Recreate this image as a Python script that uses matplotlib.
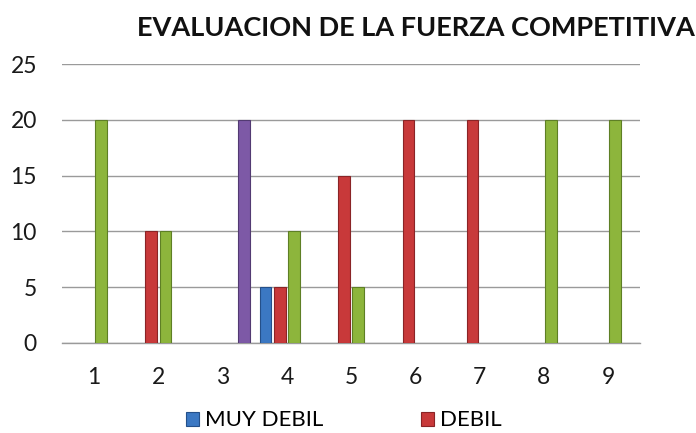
import numpy as np
import matplotlib
matplotlib.use("Agg")
import matplotlib.pyplot as plt

# datos
categorias = [1, 2, 3, 4, 5, 6, 7, 8, 9]
muy_debil = [0, 0, 0, 5, 0, 0, 0, 0, 0]
debil = [0, 10, 0, 5, 15, 20, 20, 0, 0]
fuerte = [20, 10, 0, 10, 5, 0, 0, 20, 20]
muy_fuerte = [0, 0, 20, 0, 0, 0, 0, 0, 0]
y_ticks = [0, 5, 10, 15, 20, 25]

plt.rcParams['font.family'] = ['Lato', 'DejaVu Sans']

fig = plt.figure(figsize=(6.96, 4.33), dpi=100)
ax = fig.add_axes([0.089, 0.208, 0.831, 0.644])

x = np.array(categorias)
s = 0.22   # separacion entre barras de un grupo
w = 0.18   # ancho de barra
series = [
    (muy_debil, '#3B78C3', '#24508A', 'MUY DEBIL'),
    (debil, '#C8393A', '#8A2426', 'DEBIL'),
    (fuerte, '#8DB53C', '#5E7F25', 'FUERTE'),
    (muy_fuerte, '#7D59A6', '#523A72', 'MUY FUERTE'),
]
bars = []
for i, (vals, col, edge, nom) in enumerate(series):
    off = (i - 1.5) * s
    v = np.array(vals, dtype=float)
    mask = v > 0
    b = ax.bar(x[mask] + off, v[mask], width=w, color=col, edgecolor=edge,
               linewidth=0.8, label=nom, zorder=3)
    bars.append(b)

ax.set_xlim(0.5, 9.5)
ax.set_ylim(0, 25)
ax.set_xticks(categorias)
ax.set_xticklabels([str(c) for c in categorias])
ax.set_yticks(y_ticks)
ax.yaxis.grid(True, color='#9a9a9a', linewidth=1.0, zorder=0)
ax.set_axisbelow(True)
for sp in ['top', 'right', 'left']:
    ax.spines[sp].set_visible(False)
ax.spines['bottom'].set_color('#9a9a9a')
ax.spines['bottom'].set_linewidth(1.0)
ax.tick_params(axis='both', length=0, labelsize=16.5, colors='#1a1a1a')
ax.tick_params(axis='y', pad=18)
ax.tick_params(axis='x', pad=17)

fig.text(0.597, 0.935, 'EVALUACION DE LA FUERZA COMPETITIVA', ha='center',
         va='center', fontsize=19.5, fontweight='bold', color='#111111')

# solo se ven las dos primeras entradas de la leyenda
fig.legend(handles=bars[:2], labels=['MUY DEBIL', 'DEBIL'], loc='center',
           bbox_to_anchor=(0.494, 0.029), ncol=2, frameon=False, fontsize=16,
           handlelength=0.6, handleheight=0.6, handletextpad=0.25,
           columnspacing=4.4)

fig.savefig('out.png', dpi=100)
